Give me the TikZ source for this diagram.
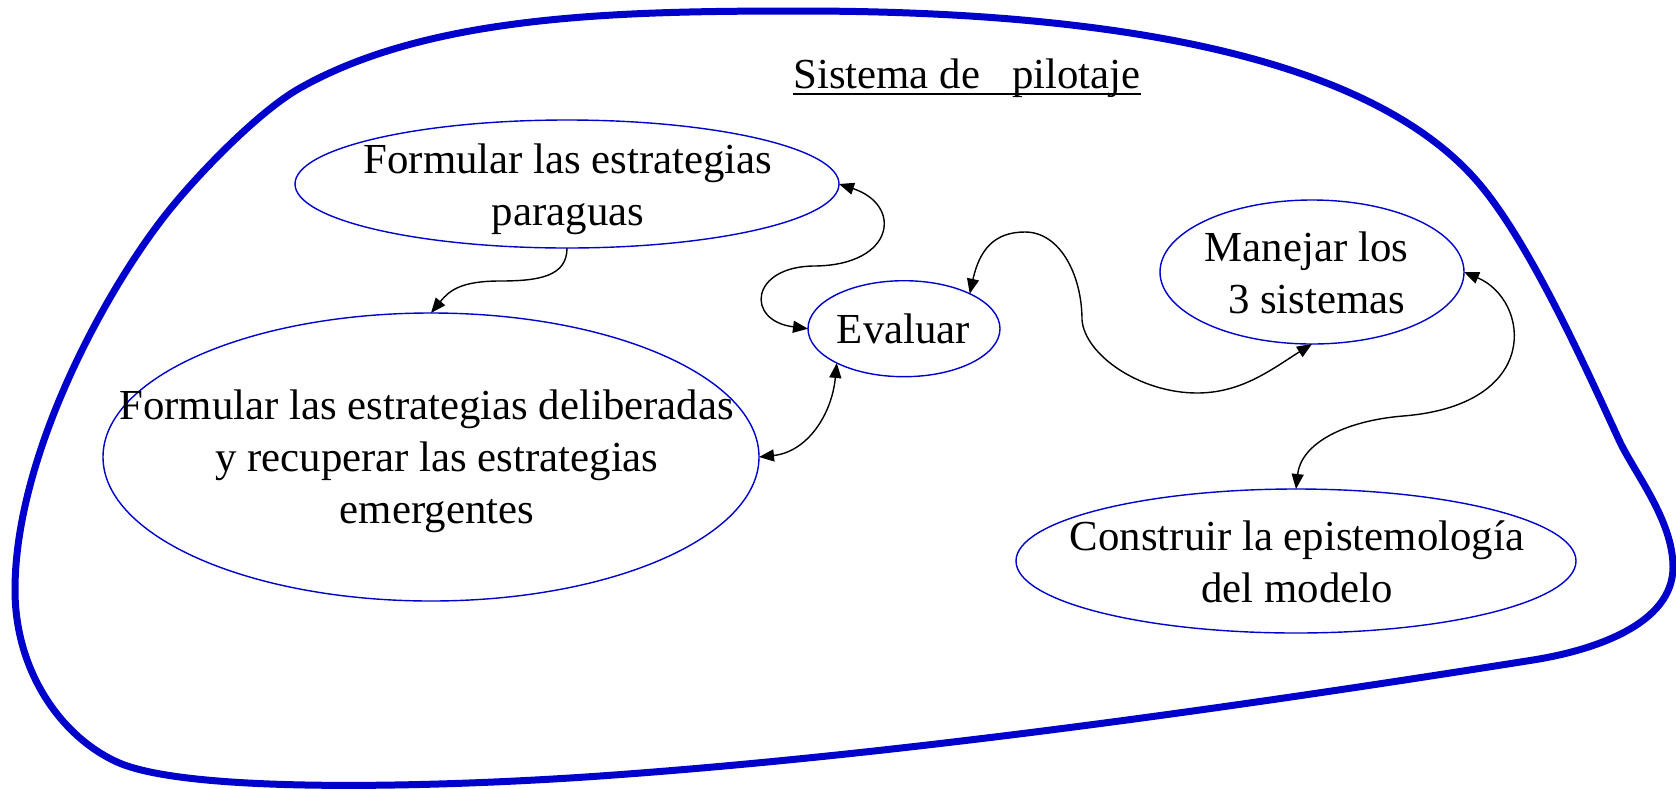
\documentclass[tikz,border=0pt]{standalone}
\usepackage{fontspec}
\setmainfont{Liberation Serif}
\usetikzlibrary{shapes.geometric,arrows.meta}
\definecolor{dblue}{RGB}{0,0,204}
\tikzset{
  outline/.style={draw=dblue, line width=3.5pt, line join=round},
  ell/.style={ellipse, draw=dblue, line width=0.7pt, inner sep=0pt, outer sep=0pt},
  lbl/.style={font=\fontsize{21.4pt}{26pt}\selectfont, align=center, inner sep=0pt},
  tip/.tip={Triangle[length=7.5pt,width=6pt]},
  arr/.style={line width=0.7pt, -tip},
  darr/.style={line width=0.7pt, tip-tip}
}
\begin{document}
\begin{tikzpicture}[x=0.5pt,y=-0.5pt]
\useasboundingbox (0,0) rectangle (1676,788);

% big enclosing outline
\draw[outline] (800,11) .. controls (1150,11) and (1377,67.5) .. (1476,180)
 .. controls (1528.8,240) and (1585.4,367.2) .. (1619,440)
 .. controls (1633.7,471.9) and (1673,520) .. (1673,567)
 .. controls (1673,625) and (1592,650.6) .. (1533,660)
 .. controls (1237,707) and (900,755) .. (600,776)
 .. controls (450.8,786.5) and (190,795) .. (117,762)
 .. controls (60,736) and (15,670) .. (15,590)
 .. controls (15,460) and (99.5,301.6) .. (160,222)
 .. controls (190,182) and (256.5,112.5) .. (300,88)
 .. controls (430.5,14.5) and (620,11) .. (800,11) -- cycle;

% title
\node[lbl, anchor=base west] (title) at (793,88) {Sistema de\ \ \ pilotaje};
\draw[line width=1pt] ([yshift=-3pt]title.base west) -- ([yshift=-3pt]title.base east);

% ellipses
\node[ell, minimum width=272pt, minimum height=64pt] (e1) at (567,184) {};
\node[ell, minimum width=328pt, minimum height=144pt] (e2) at (431,457) {};
\node[ell, minimum width=96pt, minimum height=48pt] (ev) at (904,328.7) {};
\node[ell, minimum width=152pt, minimum height=72pt] (man) at (1312,272) {};
\node[ell, minimum width=280pt, minimum height=72pt] (cons) at (1296,561) {};

% texts
\node[lbl] (t1) at (568,189) {Formular las estrategias\\paraguas};
\node[lbl] (t2) at (437,461.6) {Formular las estrategias deliberadas\rule{0.49em}{0pt}\\y recuperar las estrategias\\emergentes};
\node[lbl] (t3) at (903.5,328.4) {Evaluar};
\node[lbl] (t4) at (1306.5,273) {Manejar los\\\rule{0.48em}{0pt}3 sistemas};
\node[lbl] (t5) at (1297,562) {Construir la epistemología\\del modelo};

% connectors
\coordinate (a1) at (815,266);
\coordinate (b1) at (1025,232);
\coordinate (b2) at (1082,320);
\coordinate (b3) at (1197,393);
\coordinate (c1) at (1403,416);
\coordinate (d1) at (500,281);

\draw[darr] (e1.east) .. controls +(64,21) and +(80,-1) .. (a1)
            .. controls +(-65,0) and +(-63,-8) .. (ev.west);
\draw[darr] (ev.28) .. controls +(10,-45) and +(-30,0) .. (b1)
            .. controls +(35,0) and +(0,-45) .. (b2)
            .. controls +(3,35) and +(-57,0) .. (b3)
            .. controls +(45,0) and +(-40,25) .. (man.south);
\draw[darr] (man.east) .. controls +(66,28) and +(140,-11) .. (c1)
            .. controls +(-60,5) and +(5,-45) .. (cons.north);
\draw[arr] (e1.south) .. controls +(0,28) and +(40,0) .. (d1)
           .. controls +(-40,0) and +(18,-22) .. (e2.north);
\draw[darr] (ev.207) .. controls +(-5,52) and +(48,-5) .. (e2.east);
\end{tikzpicture}
\end{document}
